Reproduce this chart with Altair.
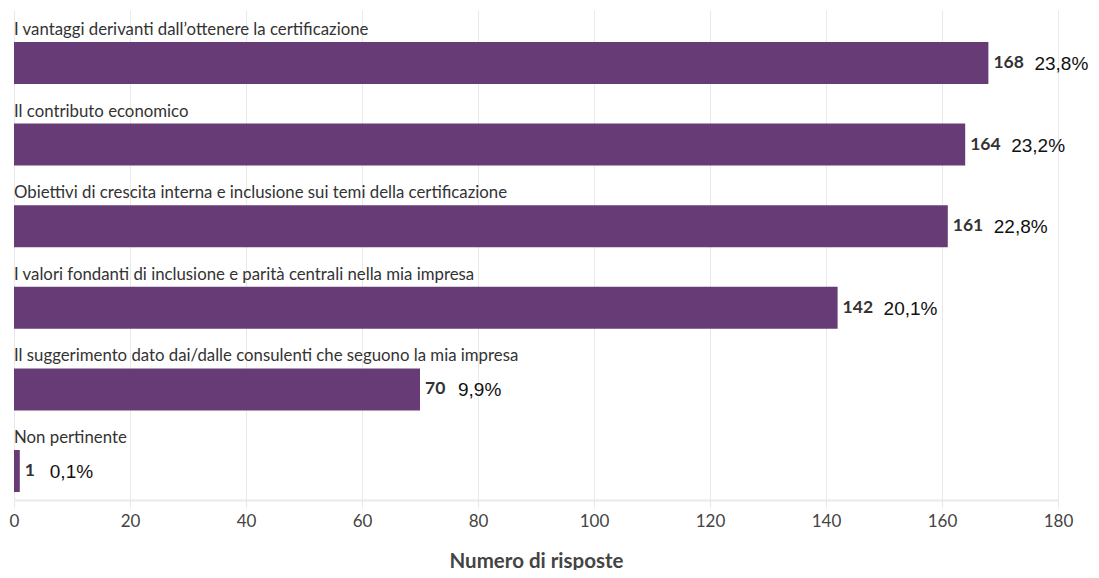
import altair as alt
import pandas as pd

categories = [
    "I vantaggi derivanti dall\u2019ottenere la certificazione",
    "Il contributo economico",
    "Obiettivi di crescita interna e inclusione sui temi della certificazione",
    "I valori fondanti di inclusione e parit\u00e0 centrali nella mia impresa",
    "Il suggerimento dato dai/dalle consulenti che seguono la mia impresa",
    "Non pertinente",
]
counts = [168, 164, 161, 142, 70, 1]
percents = ["23,8%", "23,2%", "22,8%", "20,1%", "9,9%", "0,1%"]

df = pd.DataFrame({"cat": categories, "n": counts, "pct": percents})

PURPLE = "#673c76"
FONT = "Lato"

y_enc = alt.Y("cat:N", sort=categories, axis=None,
              scale=alt.Scale(paddingInner=0.485, paddingOuter=0.245, align=0.8))
x_scale = alt.Scale(domain=[0, 180], nice=False)

base = alt.Chart(df)

bars = base.mark_bar(color=PURPLE).encode(
    x=alt.X("n:Q", scale=x_scale,
            axis=alt.Axis(title="Numero di risposte", values=list(range(0, 181, 20)),
                          grid=True, gridColor="#e9e9e9", domainColor="#e9e9e9",
                          tickColor="#e9e9e9", tickSize=8, domainWidth=2,
                          labelFlush=False,
                          labelFont=FONT, labelFontSize=17, labelColor="#444",
                          labelPadding=5,
                          titleFont=FONT, titleFontSize=20.5, titleFontWeight="bold",
                          titleColor="#444", titlePadding=22)),
    y=y_enc,
)

cat_labels = base.mark_text(align="left", baseline="bottom", dy=-24, font=FONT,
                            fontSize=16.8, color="#333").encode(
    x=alt.value(0),
    y=y_enc,
    text="cat:N",
)

num_labels = base.mark_text(align="left", baseline="middle", dx=5, font=FONT,
                            fontSize=17.5, fontWeight="bold", color="#333").encode(
    x=alt.X("n:Q", scale=x_scale),
    y=y_enc,
    text="n:Q",
)

pct_labels = base.transform_calculate(
    px="datum.n + (length(toString(datum.n)) * 8 + 22) / 5.8"
).mark_text(align="left", baseline="middle", dy=1, font="Liberation Sans",
            fontSize=19, color="#111").encode(
    x=alt.X("px:Q", scale=x_scale),
    y=y_enc,
    text="pct:N",
)

chart = alt.layer(bars, cat_labels, num_labels, pct_labels).properties(
    width=1044, height=490,
    autosize=alt.AutoSizeParams(type="none"),
    padding={"left": 6, "top": 2, "right": 33, "bottom": 70},
).configure_view(stroke=None)

chart.save("out.html", embed_options={"renderer": "svg", "actions": False})
